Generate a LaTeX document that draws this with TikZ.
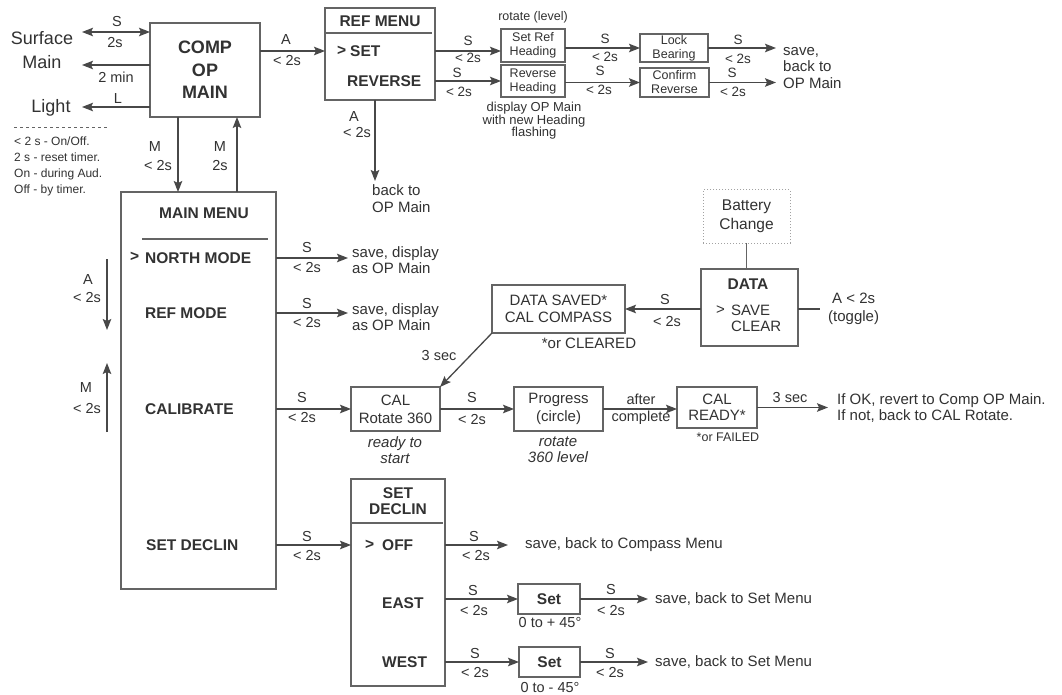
\documentclass[tikz,border=0pt]{standalone}
\usepackage{fontspec}
\setmainfont{Liberation Sans}
\usetikzlibrary{arrows.meta}
\definecolor{lc}{RGB}{72,72,72}
\definecolor{tc}{RGB}{50,50,50}
\definecolor{bc}{RGB}{100,100,100}
\begin{document}
\begin{tikzpicture}[x=1pt,y=-1pt,
  box/.style={draw=bc, line width=1.5pt, inner sep=0pt, outer sep=0pt, anchor=north west, text=tc, align=center},
  arr/.style={draw=lc, line width=1.3pt, -{Stealth[length=11pt,width=8.5pt,inset=2pt]}},
  darr/.style={draw=lc, line width=1.3pt, {Stealth[length=11pt,width=8.5pt,inset=2pt]}-{Stealth[length=11pt,width=8.5pt,inset=2pt]}},
  plain/.style={draw=lc, line width=1.3pt},
  sepl/.style={draw=bc, line width=1.2pt},
  lab/.style={text=tc, inner sep=0pt, font=\fontsize{14.5}{16}\selectfont},
  labs/.style={text=tc, inner sep=0pt, font=\fontsize{13.5}{15}\selectfont},
  txt/.style={text=tc, inner sep=0pt, font=\fontsize{15}{16.5}\selectfont, align=center},
  dest/.style={text=tc, inner sep=0pt, font=\fontsize{15}{16}\selectfont, align=left, anchor=west},
  bt/.style={text=tc, inner sep=0pt, font=\bfseries\fontsize{15.5}{17}\selectfont},
  sm/.style={text=tc, inner sep=0pt, font=\fontsize{12.5}{14}\selectfont, align=center},
  itl/.style={text=tc, inner sep=0pt, font=\itshape\fontsize{15}{16}\selectfont, align=center}]
\useasboundingbox[fill=white] (0,0) rectangle (1062,695);

% ---------- COMP OP MAIN ----------
\node[box, minimum width=110pt, minimum height=94pt, font=\bfseries\fontsize{18}{22.5}\selectfont] (comp) at (150,23) {COMP\\OP\\MAIN};
\node[txt, font=\fontsize{18}{24}\selectfont] (surf) at (42,50) {Surface\\Main};
\node[txt, font=\fontsize{18}{24}\selectfont] (light) at (51,108) {Light};
\coordinate (pS) at (82,32);
\coordinate (p2) at (82,65);
\coordinate (pL) at (82,107);
\draw[darr] (comp.west |- pS) -- (pS);
\draw[arr] (comp.west |- p2) -- (p2);
\draw[arr] (comp.west |- pL) -- (pL);
\node[lab] at (117,22) {S};
\node[lab] at (115,43) {2s};
\node[lab] at (116,77) {2 min};
\node[lab] at (118,99) {L};
\draw[bc, line width=0.9pt, dash pattern=on 3pt off 3pt] (14,127) -- (107,127);
\node[text=tc, inner sep=0pt, font=\fontsize{12}{16}\selectfont, align=left, anchor=north west] (notes) at (14,137) {< 2 s - On/Off.\\2 s - reset timer.\\On - during Aud.\\Off - by timer.};

% ---------- REF MENU ----------
\node[box, minimum width=110pt, minimum height=92pt] (ref) at (325,8) {};
\node[bt] (reft) at (380,21) {REF MENU};
\draw[sepl] (325,33) -- (432,33);
\node[bt, anchor=west] (refgt) at (337,51) {>};
\node[bt, anchor=west] (refset) at (350,51) {SET};
\node[bt, anchor=west] (refrev) at (347,81) {REVERSE};
\draw[arr] (comp.east |- refset.west) -- (ref.west |- refset.west);
\node[lab] at (286,40) {A};
\node[lab] at (287,61) {< 2s};

% ---------- M arrows ----------
\node[box, minimum width=155pt, minimum height=397pt] (main) at (121,192) {};
\draw[arr] ([xshift=-27pt]comp.south) -- ([xshift=-27pt]comp.south |- main.north);
\draw[arr] ([xshift=32pt]comp.south |- main.north) -- ([xshift=32pt]comp.south);
\node[lab] at (155,147) {M};
\node[lab] at (158,166) {< 2s};
\node[lab] at (220,147) {M};
\node[lab] at (220,166) {2s};

% ---------- MAIN MENU ----------
\node[bt] (mmt) at (204,213) {MAIN MENU};
\draw[sepl] (142,239) -- (268,239);
\node[bt, anchor=west] (nmgt) at (130,257) {>};
\node[bt, anchor=west] (nm) at (145,258) {NORTH MODE};
\node[bt, anchor=west] (rm) at (145,313) {REF MODE};
\node[bt, anchor=west] (cb) at (145,409) {CALIBRATE};
\node[bt, anchor=west] (sdl) at (146,545) {SET DECLIN};

\node[dest] (sv1) at (352,260) {save, display\\as OP Main};
\node[dest] (sv2) at (352,317) {save, display\\as OP Main};
\draw[arr] (main.east |- nm.west) -- ([xshift=-4pt]sv1.west |- nm.west);
\draw[arr] (main.east |- rm.west) -- ([xshift=-4pt]sv2.west |- rm.west);
\node[lab] at (307,248) {S};
\node[lab] at (307,268) {< 2s};
\node[lab] at (307,304) {S};
\node[lab] at (307,323) {< 2s};

\coordinate (a1) at (107,259);
\coordinate (a2) at (107,330);
\coordinate (m1) at (107,432);
\coordinate (m2) at (107,363);
\draw[arr] (a1) -- (a2);
\draw[arr] (m1) -- (m2);
\node[lab] at (88,280) {A};
\node[lab] at (87,298) {< 2s};
\node[lab] at (86,388) {M};
\node[lab] at (87,409) {< 2s};

% ---------- REF sub boxes ----------
\node[box, minimum width=64pt, minimum height=33pt, sm] (srh) at (501,29) {Set Ref\\Heading};
\node[box, minimum width=64pt, minimum height=32pt, sm] (rh) at (501,65) {Reverse\\Heading};
\node[sm] (rotl) at (533,17) {rotate (level)};
\node[sm, font=\fontsize{13}{12.5}\selectfont] (disp) at (534,121) {display OP Main\\with new Heading\\flashing};
\draw[arr] (ref.east |- refset.west) -- (srh.west |- refset.west);
\draw[arr] (ref.east |- rh.west) -- (rh.west);
\node[labs] at (468,41) {S};
\node[labs] at (468,58) {< 2s};
\node[labs] at (457,73) {S};
\node[labs] at (459,92) {< 2s};

\node[box, minimum width=68pt, minimum height=28pt, sm] (lb) at (640,34) {Lock\\Bearing};
\node[box, minimum width=69pt, minimum height=29pt, sm] (cfr) at (640,68) {Confirm\\Reverse};
\draw[arr] (srh.east |- lb.west) -- (lb.west);
\draw[arr] (rh.east |- cfr.west) -- (cfr.west);
\node[labs] at (605,39) {S};
\node[labs] at (605,57) {< 2s};
\node[labs] at (600,71) {S};
\node[labs] at (599,90) {< 2s};

\node[dest, font=\fontsize{15}{16.5}\selectfont] (sv3) at (783,68) {save,\\back to\\OP Main};
\draw[arr] (lb.east) -- ([xshift=-7pt]sv3.west |- lb.east);
\draw[arr] (cfr.east) -- ([xshift=-7pt]sv3.west |- cfr.east);
\node[labs] at (738,40) {S};
\node[labs] at (738,59) {< 2s};
\node[labs] at (732,73) {S};
\node[labs] at (733,92) {< 2s};

\coordinate (rb) at (375,181);
\draw[arr] (ref.south -| rb) -- (rb);
\node[lab] at (354,117) {A};
\node[lab] at (357,133) {< 2s};
\node[dest, font=\fontsize{15}{17}\selectfont] (back) at (372,199) {back to\\OP Main};

% ---------- DATA ----------
\node[box, draw=bc!60, line width=1pt, dotted, minimum width=87pt, minimum height=53pt, txt, font=\fontsize{15.5}{19}\selectfont] (batt) at (703,190) {Battery\\Change};
\node[box, minimum width=97pt, minimum height=77pt] (data) at (701,269) {};
\draw[plain, draw=bc, line width=1.5pt] (batt.south) -- (batt.south |- data.north);
\node[bt] (datat) at (748,284) {DATA};
\node[txt, anchor=west] (dgt) at (716,310) {>};
\node[txt, anchor=west] (dsave) at (731,310) {SAVE};
\node[txt, anchor=west] (dclear) at (731,326) {CLEAR};
\node[txt, anchor=west, font=\fontsize{15}{18}\selectfont] (tog) at (828,309) {A < 2s\\(toggle)};
\draw[plain] (data.east |- tog.west) -- ([xshift=-8pt]tog.west);

\node[box, minimum width=133pt, minimum height=48pt, font=\fontsize{15}{16.5}\selectfont] (ds) at (492,285) {DATA SAVED*\\CAL COMPASS};
\draw[arr] (data.west |- ds.east) -- (ds.east);
\node[lab] at (665,300) {S};
\node[lab] at (667,322) {< 2s};
\node[txt] (orcl) at (589,343) {*or CLEARED};

% ---------- CAL row ----------
\node[box, minimum width=89pt, minimum height=44pt, font=\fontsize{15}{18}\selectfont] (cal) at (351,387) {CAL\\Rotate 360};
\node[itl] (rts) at (395,450) {ready to\\start};
\draw[arr] (ds.south west) -- (cal.north east);
\node[lab] at (439,356) {3 sec};
\draw[arr] (main.east |- cal.west) -- (cal.west);
\node[lab] at (302,398) {S};
\node[lab] at (302,418) {< 2s};

\node[box, minimum width=89pt, minimum height=44pt, font=\fontsize{15}{18}\selectfont] (prog) at (514,387) {Progress\\(circle)};
\node[itl] (r360) at (558,450) {rotate\\360 level};
\draw[arr] (cal.east) -- (prog.west);
\node[lab] at (472,398) {S};
\node[lab] at (472,420) {< 2s};

\node[box, minimum width=80pt, minimum height=41pt, font=\fontsize{15}{15.5}\selectfont] (crdy) at (677,387) {CAL\\READY*};
\node[sm] (orf) at (728,437) {*or FAILED};
\draw[arr] (prog.east) -- (crdy.west |- prog.east);
\node[lab] at (641,399) {after};
\node[lab] at (641,418) {complete};

\node[dest, font=\fontsize{15}{15.5}\selectfont] (ifok) at (837,408) {If OK, revert to Comp OP Main.\\If not, back to CAL Rotate.};
\draw[arr] (crdy.east) -- ([xshift=-9pt]ifok.west |- crdy.east);
\node[lab] at (790,398) {3 sec};

% ---------- SET DECLIN ----------
\node[box, minimum width=94pt, minimum height=207pt] (sd) at (351,479) {};
\node[bt, align=center, font=\bfseries\fontsize{15.5}{16}\selectfont] (sdt) at (398,501) {SET\\DECLIN};
\draw[sepl] (351,523) -- (443,523);
\node[bt, anchor=west] (offgt) at (365,545) {>};
\node[bt, anchor=west] (off) at (382,545) {OFF};
\node[bt, anchor=west] (east) at (382,603) {EAST};
\node[bt, anchor=west] (west) at (382,662) {WEST};
\draw[arr] (main.east |- off.west) -- (sd.west |- off.west);
\node[lab] at (307,537) {S};
\node[lab] at (307,556) {< 2s};

\node[dest] (sv5) at (525,545) {save, back to Compass Menu};
\draw[arr] (sd.east |- off.west) -- ([xshift=-17pt]sv5.west |- off.west);
\node[lab] at (474,537) {S};
\node[lab] at (476,556) {< 2s};

\node[box, minimum width=62pt, minimum height=30pt, bt] (set1) at (518,584) {Set};
\node[lab] (deg1) at (550,623) {0 to + 45°};
\draw[arr] (sd.east |- set1.west) -- (set1.west);
\node[lab] at (473,591) {S};
\node[lab] at (474,611) {< 2s};
\node[dest] (sv6) at (655,599) {save, back to Set Menu};
\draw[arr] (set1.east) -- ([xshift=-7pt]sv6.west);
\node[lab] at (611,590) {S};
\node[lab] at (611,611) {< 2s};

\node[box, minimum width=61pt, minimum height=30pt, bt] (set2) at (519,647) {Set};
\node[lab] (deg2) at (550,688) {0 to - 45°};
\draw[arr] (sd.east |- set2.west) -- (set2.west);
\node[lab] at (475,654) {S};
\node[lab] at (475,673) {< 2s};
\node[dest] (sv7) at (655,662) {save, back to Set Menu};
\draw[arr] (set2.east) -- ([xshift=-7pt]sv7.west);
\node[lab] at (610,654) {S};
\node[lab] at (610,673) {< 2s};
\end{tikzpicture}
\end{document}
